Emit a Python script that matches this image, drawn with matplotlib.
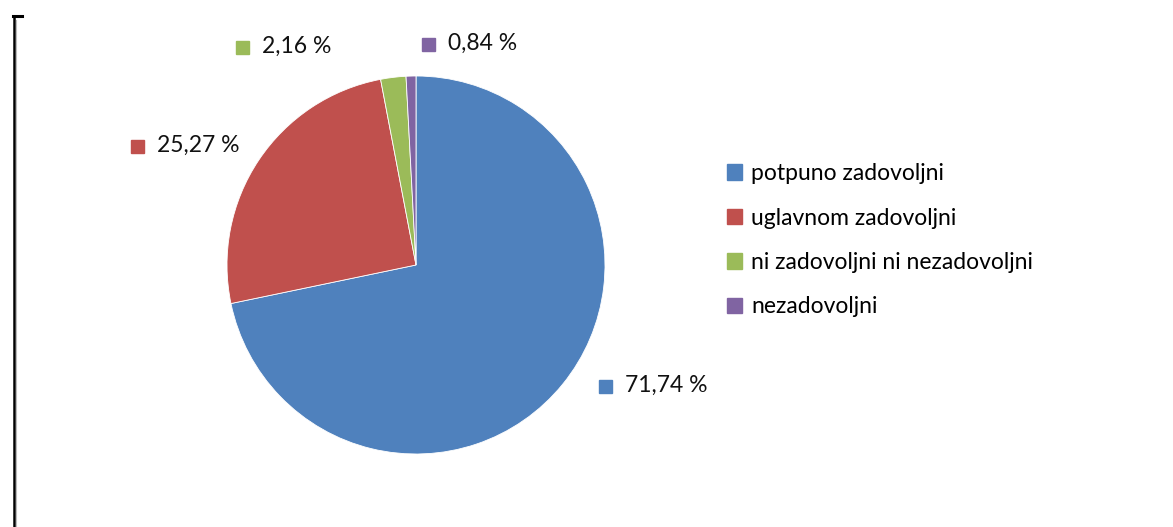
import matplotlib.pyplot as plt
from matplotlib.patches import Rectangle
from matplotlib.lines import Line2D

# --- Data ---
categories = ["potpuno zadovoljni", "uglavnom zadovoljni",
              "ni zadovoljni ni nezadovoljni", "nezadovoljni"]
values = [71.74, 25.27, 2.16, 0.84]
value_labels = ["71,74 %", "25,27 %", "2,16 %", "0,84 %"]
colors = ["#4F81BD", "#C0504D", "#9BBB59", "#8064A2"]

plt.rcParams['font.family'] = ['Lato', 'DejaVu Sans']

W, H = 1173, 527
fig = plt.figure(figsize=(W / 100, H / 100), dpi=100)
fig.patch.set_facecolor("white")

# pie axes (pixel geometry of the reference)
cx, cy, r = 416, 265, 189
ax = fig.add_axes([(cx - r) / W, (H - cy - r) / H, 2 * r / W, 2 * r / H])
ax.pie(values, colors=colors, startangle=90, counterclock=False,
       radius=1, wedgeprops=dict(linewidth=0.6, edgecolor="white"))
ax.set_xlim(-1, 1)
ax.set_ylim(-1, 1)
ax.set_aspect("equal")
ax.axis("off")

# data labels: marker square + text (top-left pixel of square)
label_pos = [(599, 380), (131, 140), (236, 41), (422, 38)]
sq = 13
fs = 16.5
for (px, py), txt, c in zip(label_pos, value_labels, colors):
    fig.patches.append(Rectangle((px / W, (H - py - sq) / H), sq / W, sq / H,
                                 transform=fig.transFigure, color=c))
    fig.text((px + 26) / W, (H - py - sq / 2 + 1) / H, txt, fontsize=fs,
             va="center", ha="left", color="#111111")

# legend
handles = [Rectangle((0, 0), 1, 1, color=c) for c in colors]
fig.legend(handles, categories, loc="upper left",
           bbox_to_anchor=(718 / W, (H - 154) / H), frameon=False,
           fontsize=fs, handlelength=0.65, handleheight=0.65,
           handletextpad=0.4, labelspacing=1.02, borderaxespad=0)

# left border with corner tick
fig.lines.append(Line2D([14 / W, 14 / W], [0, (H - 17) / H],
                        transform=fig.transFigure, color="black", lw=1.8))
fig.lines.append(Line2D([16 / W, 16 / W], [0, (H - 20) / H],
                        transform=fig.transFigure, color="#bbbbbb", lw=0.8))
fig.lines.append(Line2D([13 / W, 22 / W], [(H - 16) / H, (H - 16) / H],
                        transform=fig.transFigure, color="black", lw=2.2))

fig.savefig("out.png", dpi=100)
